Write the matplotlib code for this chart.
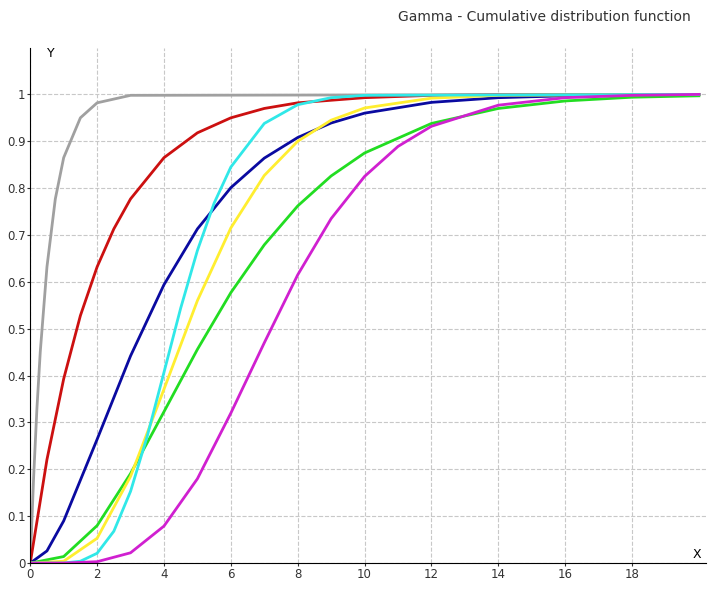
import matplotlib.pyplot as plt

# valores
x_gris = [0, 0.1, 0.2, 0.3, 0.5, 0.75, 1, 1.5, 2, 3, 20]
y_gris = [0, 0.181, 0.330, 0.451, 0.632, 0.777, 0.865, 0.950, 0.982, 0.998, 1.0]

x_rojo = [0, 0.5, 1, 1.5, 2, 2.5, 3, 4, 5, 6, 7, 8, 10, 12, 14, 20]
y_rojo = [0, 0.221, 0.393, 0.528, 0.632, 0.713, 0.777, 0.865, 0.918, 0.950, 0.970, 0.982, 0.993, 0.998, 0.999, 1.0]

x_azul = [0, 0.5, 1, 2, 3, 4, 5, 6, 7, 8, 9, 10, 12, 14, 16, 20]
y_azul = [0, 0.026, 0.090, 0.264, 0.442, 0.594, 0.713, 0.801, 0.864, 0.908, 0.939, 0.960, 0.983, 0.993, 0.997, 1.0]

x_verde = [0, 1, 2, 3, 4, 5, 6, 7, 8, 9, 10, 12, 14, 16, 18, 20]
y_verde = [0, 0.014, 0.080, 0.191, 0.323, 0.456, 0.577, 0.679, 0.762, 0.826, 0.875, 0.938, 0.970, 0.986, 0.994, 0.997]

x_amarillo = [0, 1, 2, 3, 4, 5, 6, 7, 8, 9, 10, 12, 14, 20]
y_amarillo = [0, 0.004, 0.053, 0.185, 0.371, 0.560, 0.715, 0.827, 0.900, 0.945, 0.971, 0.992, 0.998, 1.0]

x_cian = [0, 1, 1.5, 2, 2.5, 3, 3.5, 4, 4.5, 5, 5.5, 6, 7, 8, 9, 10, 20]
y_cian = [0, 0.0002, 0.004, 0.021, 0.068, 0.153, 0.271, 0.407, 0.544, 0.667, 0.768, 0.845, 0.938, 0.978, 0.993, 0.998, 1.0]

x_magenta = [0, 1, 2, 3, 4, 5, 6, 7, 8, 9, 10, 11, 12, 14, 16, 18, 20]
y_magenta = [0, 0.0001, 0.003, 0.022, 0.079, 0.18, 0.32, 0.47, 0.615, 0.735, 0.825, 0.889, 0.932, 0.977, 0.993, 0.998, 1.0]

fig = plt.figure(figsize=(7.2, 5.94), dpi=100)
ax = fig.add_axes([0.042, 0.052, 0.938, 0.868])

ax.plot(x_gris, y_gris, color="#a0a0a0", linewidth=2)
ax.plot(x_rojo, y_rojo, color="#cc1010", linewidth=2)
ax.plot(x_azul, y_azul, color="#0a0aa0", linewidth=2)
ax.plot(x_verde, y_verde, color="#22dd22", linewidth=2)
ax.plot(x_amarillo, y_amarillo, color="#ffee30", linewidth=2)
ax.plot(x_cian, y_cian, color="#30e8e8", linewidth=2)
ax.plot(x_magenta, y_magenta, color="#d020d0", linewidth=2)

ax.set_xlim(0, 20.2)
ax.set_ylim(0, 1.1)
ax.set_xticks(range(0, 19, 2))
ax.set_yticks([i / 10 for i in range(11)])
ax.set_yticklabels(["0"] + [f"{i/10:g}" for i in range(1, 10)] + ["1"])
ax.grid(True, color="#c8c8c8", linestyle="--", linewidth=0.8)
ax.tick_params(labelsize=8.5, colors="#333333", length=2, pad=1.5)
for s in ["top", "right"]:
    ax.spines[s].set_visible(False)

ax.text(0.5, 1.08, "Y", fontsize=9)
ax.text(19.8, 0.01, "X", fontsize=9)
fig.text(0.96, 0.965, "Gamma - Cumulative distribution function", ha="right", fontsize=10, color="#333333")

fig.savefig("out.png")
